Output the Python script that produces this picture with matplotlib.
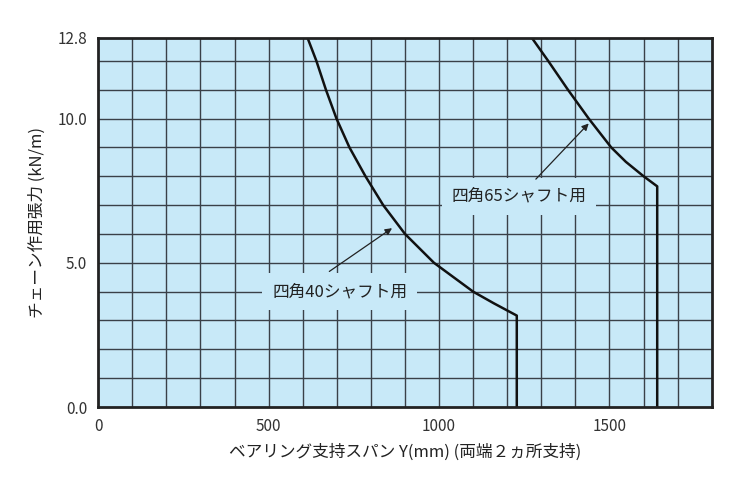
import matplotlib
matplotlib.use("Agg")
import matplotlib.pyplot as plt
import numpy as np

plt.rcParams['font.family'] = ['Noto Sans CJK JP', 'DejaVu Sans']

# span (mm) vs allowable chain tension (kN/m)
x40 = [614, 640, 668, 699, 737, 784, 836, 900, 985, 1100, 1160, 1228, 1228]
y40 = [12.8, 12.0, 11.0, 10.0, 9.0, 8.0, 7.0, 6.0, 5.0, 4.0, 3.6, 3.17, 0.0]
x65 = [1272, 1320, 1378, 1439, 1505, 1548, 1600, 1640, 1640]
y65 = [12.8, 12.0, 11.0, 10.0, 9.0, 8.5, 8.0, 7.65, 0.0]
xticks = [0, 500, 1000, 1500]
yticks = [0.0, 5.0, 10.0, 12.8]

bg = "#c8e9f8"
fig = plt.figure(figsize=(7.33, 4.97), dpi=100)
ax = fig.add_axes([0.134, 0.181, 0.837, 0.743])
ax.set_facecolor(bg)
ax.set_xlim(0, 1800)
ax.set_ylim(0, 12.8)

for gx in np.arange(100, 1800, 100):
    ax.axvline(gx, color="#3a4048", lw=1.0, zorder=1)
for gy in np.arange(1, 13, 1):
    ax.axhline(gy, color="#3a4048", lw=1.0, zorder=1)

ax.plot(x40, y40, color="#111111", lw=1.8, zorder=3, solid_joinstyle="round")
ax.plot(x65, y65, color="#111111", lw=1.8, zorder=3, solid_joinstyle="round")

box = dict(facecolor=bg, edgecolor="none", pad=7)
ax.text(708, 4.0, "四角40シャフト用", ha="center", va="center", fontsize=12,
        color="#222222", bbox=box, zorder=4)
ax.text(1234, 7.3, "四角65シャフト用", ha="center", va="center", fontsize=12,
        color="#222222", bbox=box, zorder=4)
arrow = dict(arrowstyle="-|>", color="#222222", lw=0.9, shrinkA=0, shrinkB=0)
ax.annotate("", xy=(862, 6.2), xytext=(678, 4.7), arrowprops=arrow, zorder=5)
ax.annotate("", xy=(1439, 9.83), xytext=(1284, 7.9), arrowprops=arrow, zorder=5)

ax.set_xticks(xticks)
ax.set_xticklabels([str(v) for v in xticks])
ax.set_yticks(yticks)
ax.set_yticklabels([f"{v:.1f}" for v in yticks])
ax.tick_params(length=0, labelsize=11, labelcolor="#333333", pad=8)
for s in ax.spines.values():
    s.set_linewidth(2.0)
    s.set_color("#222222")
    s.set_zorder(5)

ax.set_xlabel("ベアリング支持スパン Y(mm) (両端２ヵ所支持)", fontsize=12, color="#222222", labelpad=6)
ax.set_ylabel("チェーン作用張力 (kN/m)", fontsize=12, color="#222222", labelpad=8)

fig.savefig("out.png", dpi=100, facecolor="white")
